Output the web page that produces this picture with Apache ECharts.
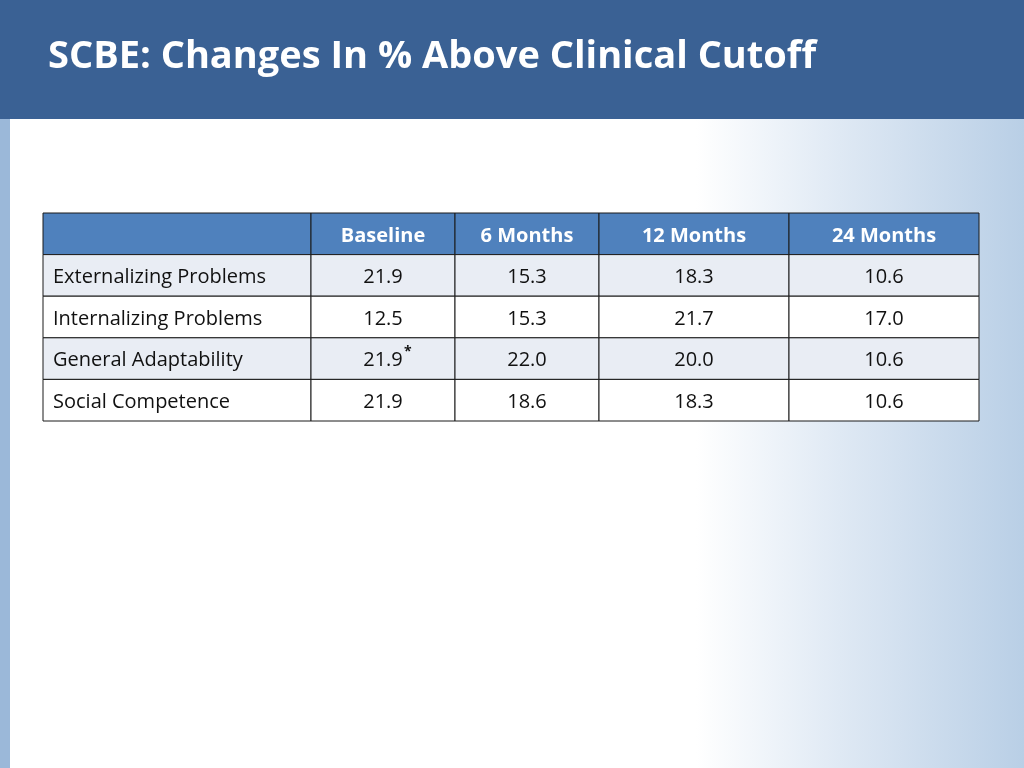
<!DOCTYPE html>
<html><head><meta charset="utf-8">
<script src="https://cdn.jsdelivr.net/npm/echarts@6/dist/echarts.min.js"></script>
<style>html,body{margin:0;padding:0;}#c{width:1024px;height:768px;}</style>
</head><body><div id="c"></div>
<script>
const title = 'SCBE: Changes In % Above Clinical Cutoff';
const columns = ['', 'Baseline', '6 Months', '12 Months', '24 Months'];
const measures = ['Externalizing Problems', 'Internalizing Problems', 'General Adaptability', 'Social Competence'];
const baseline = ['21.9', '12.5', '21.9', '21.9'];
const months6 = ['15.3', '15.3', '22.0', '18.6'];
const months12 = ['18.3', '21.7', '20.0', '18.3'];
const months24 = ['10.6', '17.0', '10.6', '10.6'];
const notes = ['', '', '*', ''];

const colEdges = [0, 268, 412, 556, 746, 936];
const rows = ['header'].concat(measures);
const cells = [];
columns.forEach((c, i) => cells.push([i, 0, c, '']));
const valueCols = [baseline, months6, months12, months24];
measures.forEach((m, r) => {
  cells.push([0, r + 1, m, '']);
  valueCols.forEach((arr, j) => cells.push([j + 1, r + 1, arr[r], j === 0 ? notes[r] : '']));
});

const chart = echarts.init(document.getElementById('c'));
chart.setOption({
  animation: false,
  graphic: [
    {type: 'rect', shape: {x: 0, y: 0, width: 1024, height: 768}, style: {fill: new echarts.graphic.LinearGradient(0, 0, 1, 0, [{offset: 0, color: '#ffffff'}, {offset: 0.68, color: '#ffffff'}, {offset: 0.82, color: '#dfe9f4'}, {offset: 1, color: '#b9cfe6'}])}, z: -10},
    {type: 'rect', shape: {x: 0, y: 118, width: 10, height: 650}, style: {fill: '#9bb8d9'}, z: -9},
    {type: 'rect', shape: {x: 0, y: 0, width: 1024, height: 119}, style: {fill: '#3a6194'}, z: -8},
    {type: 'text', left: 48, top: 38, style: {text: title, fill: '#ffffff', font: 'bold 38px "Open Sans", "Liberation Sans", sans-serif'}, z: 10}
  ],
  grid: {left: 43, top: 213, width: 936, height: 208},
  xAxis: {type: 'value', min: 0, max: 936, show: false},
  yAxis: {type: 'category', data: rows, inverse: true, show: false},
  series: [{
    type: 'custom',
    data: cells,
    renderItem: function (params, api) {
      const c = api.value(0), r = api.value(1);
      const d = cells[params.dataIndex];
      const p0 = api.coord([colEdges[c], r]);
      const p1 = api.coord([colEdges[c + 1], r]);
      const h = api.size([0, 1])[1];
      const x = p0[0], y = p0[1] - h / 2, w = p1[0] - p0[0];
      const header = r === 0;
      const fill = header ? '#4f81bd' : (r % 2 === 1 ? '#e9edf4' : '#ffffff');
      const children = [{type: 'rect', shape: {x: x, y: y, width: w, height: h}, style: {fill: fill, stroke: '#1a1a1a', lineWidth: 1}}];
      const font = (header ? 'bold ' : '') + '20px "Open Sans", "Liberation Sans", sans-serif';
      const ty = y + h / 2 + 2;
      if (c === 0) {
        children.push({type: 'text', style: {x: x + 10, y: ty, text: d[2], fill: header ? '#fff' : '#111', font: font, verticalAlign: 'middle', align: 'left'}});
      } else {
        children.push({type: 'text', style: {x: x + w / 2, y: ty, text: d[2], fill: header ? '#fff' : '#111', font: font, verticalAlign: 'middle', align: 'center'}});
        if (d[3]) children.push({type: 'text', style: {x: x + w / 2 + 21, y: ty - 16, text: d[3], fill: '#111', font: 'bold 14px "Open Sans", sans-serif', align: 'left'}});
      }
      return {type: 'group', children: children};
    }
  }]
});
</script></body></html>
